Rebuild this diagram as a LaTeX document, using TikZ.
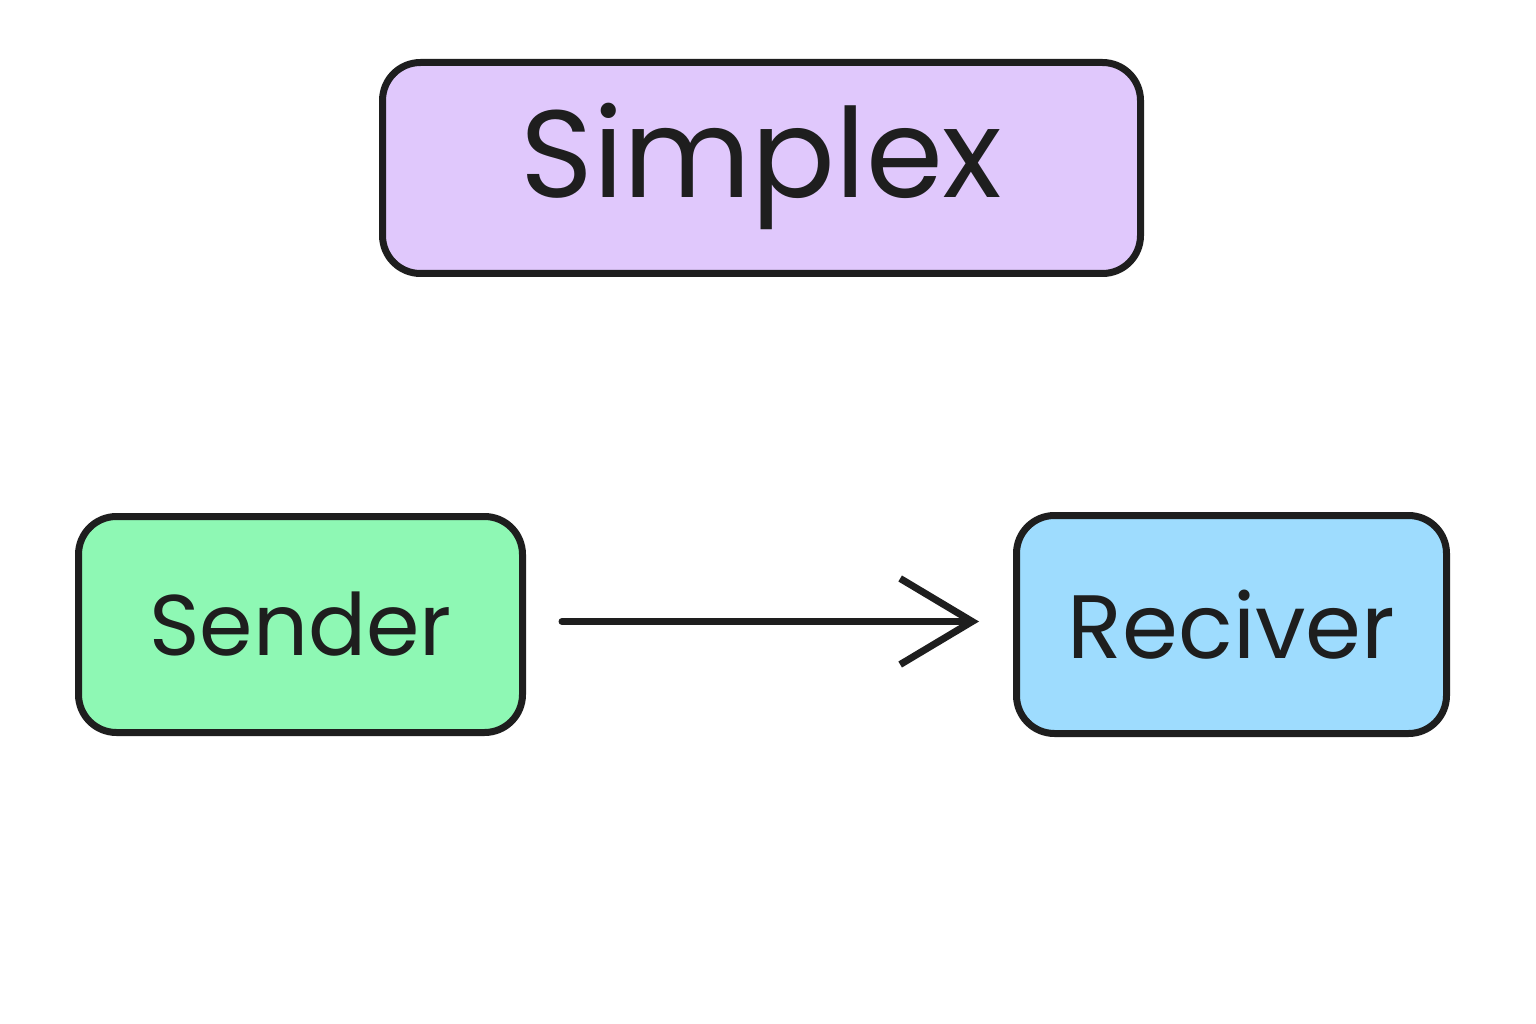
\documentclass[tikz,border=0pt]{standalone}
\usepackage{fontspec}
\setmainfont{Poppins}
\usetikzlibrary{arrows.meta}
\definecolor{purplebg}{RGB}{224,200,252}
\definecolor{greenbg}{RGB}{142,248,180}
\definecolor{bluebg}{RGB}{158,220,254}
\definecolor{ink}{RGB}{30,30,30}
\begin{document}
\begin{tikzpicture}[x=1pt,y=-1pt,
  box/.style={draw=ink, line width=7pt, rounded corners=38pt, inner sep=0pt, anchor=north west},
  lbl/.style={text=ink}]
\useasboundingbox (0,0) rectangle (1536,1024);
\fill[white] (0,0) rectangle (1536,1024);
\node[box, fill=purplebg, minimum width=758pt, minimum height=211pt] (title) at (379,59) {};
\node[lbl, font=\fontsize{124}{130}\selectfont] (titletext) at ([yshift=2pt]title.center) {Simplex};
\node[box, fill=greenbg, minimum width=444pt, minimum height=216pt] (sender) at (75,513) {};
\node[lbl, font=\fontsize{86}{90}\selectfont] (sendertext) at (sender.center) {Sender};
\node[box, fill=bluebg, minimum width=430pt, minimum height=218pt] (reciver) at (1013,512) {};
\node[lbl, font=\fontsize{90}{96}\selectfont] (recivertext) at (reciver.center) {Reciver};
\draw[ink, line width=7pt, line cap=round, shorten <=36pt, shorten >=34pt,
  -{Straight Barb[length=72pt, width=86pt, line width=7pt]}] ([yshift=3pt]sender.east) -- ([yshift=3pt]reciver.west);
\end{tikzpicture}
\end{document}
